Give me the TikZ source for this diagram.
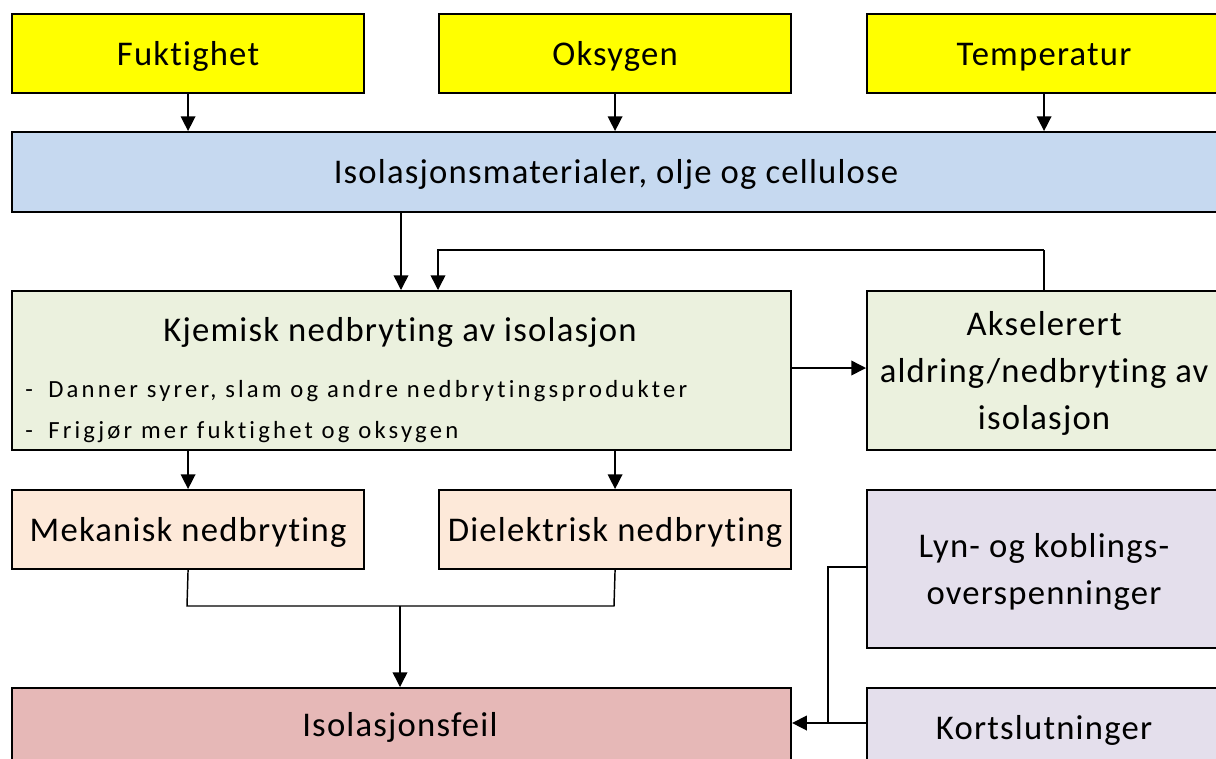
\documentclass[tikz,border=0pt]{standalone}
\usepackage{fontspec}
\setmainfont[Ligatures=NoCommon]{Carlito}
\newfontfamily\boxfont[Ligatures=NoCommon, LetterSpace=3.5]{Carlito}
\newfontfamily\listfont[Ligatures=NoCommon, LetterSpace=13]{Carlito}
\usetikzlibrary{arrows.meta}
\definecolor{cyellow}{HTML}{FFFF00}
\definecolor{cblue}{HTML}{C6D9F0}
\definecolor{cgreen}{HTML}{EBF1DE}
\definecolor{cpeach}{HTML}{FDE9D9}
\definecolor{cpurple}{HTML}{E4DFEC}
\definecolor{cred}{HTML}{E6B8B7}
\tikzset{
  framed/.style={draw=black, line width=1.6pt, anchor=north west, inner sep=0pt,
    align=center, font=\boxfont\fontsize{26}{35}\selectfont},
  box/.style={framed, text height=20pt, text depth=2.5pt},
  tallbox/.style={framed, text depth=0pt},
  label/.style={inner sep=0pt, font=\boxfont\fontsize{26}{35}\selectfont},
  bullet/.style={anchor=base west, inner sep=0pt, font=\listfont\fontsize{18.5}{22}\selectfont},
  link/.style={line width=1.1pt},
  arr/.style={link, -{Triangle[length=11pt,width=11pt]}},
}
\begin{document}
\begin{tikzpicture}[x=0.75pt,y=-0.75pt]
\useasboundingbox (0,0) rectangle (1216,758);
\clip (0,0) rectangle (1216,758);

% input factors
\node[box, fill=cyellow, minimum width=352*0.75pt, minimum height=79*0.75pt] (fuk) at (11,13) {Fuktighet};
\node[box, fill=cyellow, minimum width=352*0.75pt, minimum height=79*0.75pt] (oks) at (438,13) {Oksygen};
\node[box, fill=cyellow, minimum width=354*0.75pt, minimum height=79*0.75pt] (tem) at (866,13) {Temperatur};

% insulation materials
\node[box, fill=cblue, minimum width=1208*0.75pt, minimum height=80*0.75pt] (iso) at (11,131) {Isolasjonsmaterialer, olje og cellulose};

% chemical degradation
\node[framed, fill=cgreen, minimum width=779*0.75pt, minimum height=159*0.75pt] (kjem) at (11,290) {};
\node[label] (kjemt) at (400,332) {Kjemisk nedbryting av isolasjon};
\node[bullet] (b1d) at (25,397) {-};
\node[bullet] (b1) at (48,397) {Danner syrer, slam og andre nedbrytingsprodukter};
\node[bullet] (b2d) at (25,438) {-};
\node[bullet] (b2) at (48,438) {Frigjør mer fuktighet og oksygen};

\node[tallbox, fill=cgreen, minimum width=354*0.75pt, minimum height=159*0.75pt] (aks) at (866,290) {Akselerert\\aldring/nedbryting av\\isolasjon};

% mechanical / dielectric
\node[box, fill=cpeach, minimum width=352*0.75pt, minimum height=79*0.75pt] (mek) at (11,489) {Mekanisk nedbryting};
\node[box, fill=cpeach, minimum width=352*0.75pt, minimum height=79*0.75pt] (die) at (438,489) {Dielektrisk nedbryting};

% external stresses
\node[tallbox, fill=cpurple, minimum width=354*0.75pt, minimum height=158*0.75pt] (lyn) at (866,489) {Lyn- og koblings-\\overspenninger};
\node[box, fill=cpurple, minimum width=354*0.75pt, minimum height=80*0.75pt] (kort) at (866,687) {Kortslutninger};

% failure
\node[framed, fill=cred, minimum width=779*0.75pt, minimum height=80*0.75pt] (feil) at (11,687) {};
\node[label] (feilt) at (400,727) {Isolasjonsfeil};

% helper points
\coordinate (isoout) at (401,211);
\coordinate (fbin) at (438,290);
\coordinate (fbtop) at (438,250);
\coordinate (fbright) at (1041,250);
\coordinate (join) at (400,606);
\coordinate (mekjoin) at (187,606);
\coordinate (diejoin) at (614,606);
\coordinate (lynbend) at (828,567);
\coordinate (feilin) at (828,723);

% arrows from factors
\draw[arr] (fuk.south) -- (fuk.south |- iso.north);
\draw[arr] (oks.south) -- (oks.south |- iso.north);
\draw[arr] (tem.south) -- (tem.south |- iso.north);

% into chemical degradation
\draw[arr] (isoout) -- (isoout |- kjem.north);
\draw[arr] (aks.north |- fbright) -- (fbtop) -- (fbin);
\draw[link] (aks.north) -- (aks.north |- fbright);
\draw[arr] (kjem.east |- 0,368) -- (aks.west |- 0,368);

% down to mechanical / dielectric
\draw[arr] (kjem.south -| mek.north) -- (mek.north);
\draw[arr] (kjem.south -| die.north) -- (die.north);

% merge into failure
\draw[link] (mek.south) -- (mekjoin) -- (diejoin) -- (die.south);
\draw[arr] (join) -- (join |- feil.north);

% external stresses into failure
\draw[link] (lyn.west |- lynbend) -- (lynbend) -- (feilin);
\draw[arr] (kort.west |- feilin) -- (feil.east |- feilin);
\end{tikzpicture}
\end{document}
